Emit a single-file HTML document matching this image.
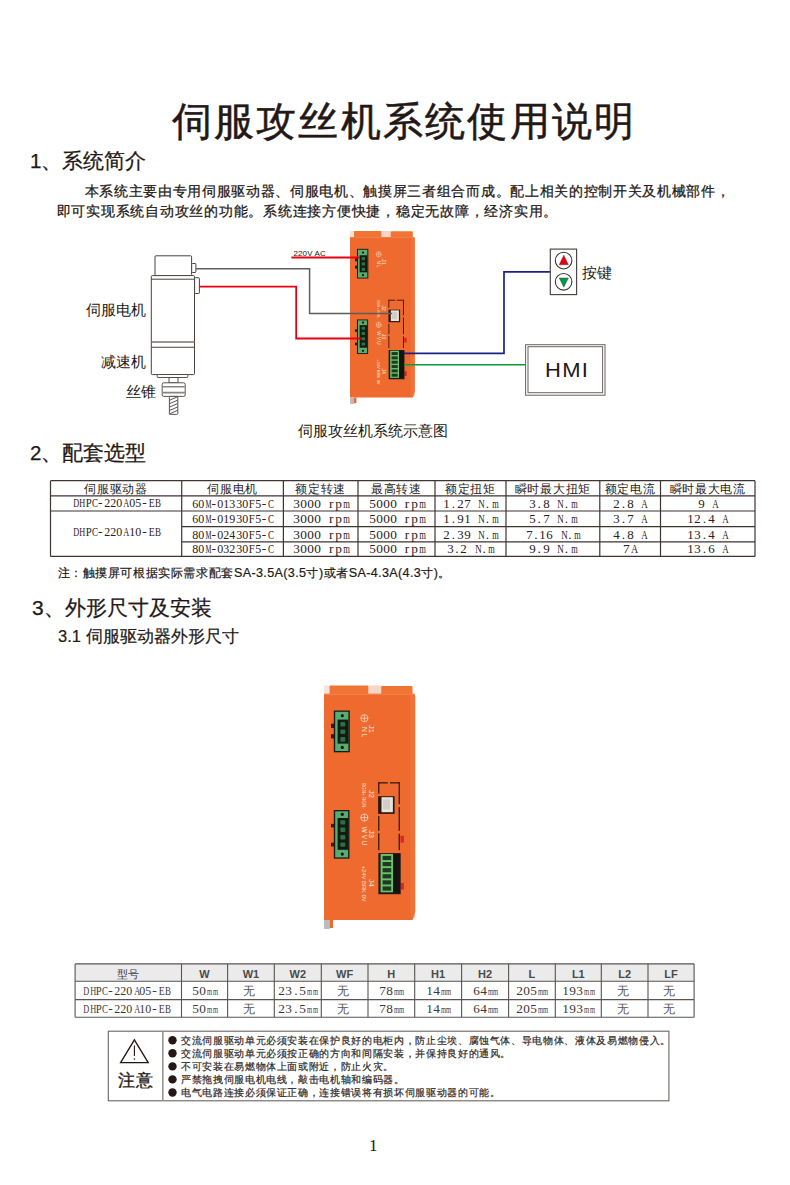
<!DOCTYPE html>
<html><head><meta charset="utf-8">
<style>
html,body{margin:0;padding:0;background:#fff;}
body{width:790px;height:1185px;position:relative;overflow:hidden;font-family:"Liberation Sans",sans-serif;color:#231815;}
.t{position:absolute;white-space:nowrap;line-height:1;}
.c{position:absolute;white-space:nowrap;line-height:1;text-align:center;}
.sf{font-family:"Liberation Serif",serif;}
.mo{font-family:"Liberation Mono",monospace;}
.m i{display:inline-block;font-style:normal;text-align:center;}
svg{position:absolute;left:0;top:0;}
</style></head><body>
<svg width="790" height="1185" viewBox="0 0 790 1185">
<defs>
<g id="drv">
<rect x="0" y="0" width="6" height="10" fill="#f3e3dc"/>
<rect x="5.6" y="0" width="39" height="9.5" rx="1" fill="#f07535"/>
<rect x="44.6" y="0" width="12.6" height="9" fill="#f6d6c8"/>
<rect x="57.2" y="0.5" width="31.3" height="9" rx="1" fill="#f07535"/>
<path d="M0 8.4 L90.5 8.4 L91.3 11 L91.3 226 L88.5 234.6 L0 234.6 Z" fill="#ee6a2e"/>
<rect x="86" y="10" width="5" height="222" fill="#f07a40" opacity="0.6"/>
<rect x="0" y="8.4" width="91" height="1.2" fill="#f58a55" opacity="0.7"/>
<rect x="0" y="234.6" width="5.6" height="9" fill="#b9bcc0"/>
<rect x="5.6" y="234.6" width="3.4" height="8" fill="#ee6a2e"/>
<rect x="7" y="38.3" width="3" height="4.3" fill="#2a1d18"/>
<rect x="7" y="48.8" width="3" height="4.2" fill="#2a1d18"/>
<rect x="9.8" y="25.1" width="16" height="41.8" fill="#1a1c18"/>
<rect x="11.2" y="26.4" width="13.2" height="39.2" fill="#55ad72"/>
<rect x="13.6" y="34.2" width="10.8" height="24" fill="#121a14"/>
<rect x="16.3" y="36.5" width="5" height="4.6" rx="1" fill="#2e6e44"/>
<rect x="16.3" y="44.1" width="5" height="4.6" rx="1" fill="#2e6e44"/>
<rect x="16.3" y="51.7" width="5" height="4.6" rx="1" fill="#2e6e44"/>
<circle cx="18.3" cy="30.3" r="1.6" fill="#101410"/><circle cx="18.3" cy="62" r="1.6" fill="#101410"/>
<rect x="7" y="138.5" width="3" height="3.5" fill="#2a1d18"/>
<rect x="7" y="157.3" width="3" height="3.7" fill="#2a1d18"/>
<rect x="9.8" y="124.6" width="15.7" height="48.7" fill="#1a1c18"/>
<rect x="11.2" y="125.9" width="12.9" height="46.1" fill="#55ad72"/>
<rect x="13.6" y="132.6" width="10.5" height="31.8" fill="#121a14"/>
<rect x="16.3" y="134.8" width="5" height="4.4" rx="1" fill="#2e6e44"/>
<rect x="16.3" y="142.2" width="5" height="4.4" rx="1" fill="#2e6e44"/>
<rect x="16.3" y="149.6" width="5" height="4.4" rx="1" fill="#2e6e44"/>
<rect x="16.3" y="157.0" width="5" height="4.4" rx="1" fill="#2e6e44"/>
<circle cx="18.3" cy="128.9" r="1.6" fill="#101410"/><circle cx="18.3" cy="168.7" r="1.6" fill="#101410"/>
<g fill="#3a1a10">
<rect x="54.1" y="96.8" width="9.7" height="1.3"/><rect x="66" y="96.8" width="9.7" height="1.3"/>
<rect x="54.1" y="96.8" width="1.3" height="11.4"/><rect x="54.1" y="130.6" width="1.3" height="14.8"/><rect x="54.1" y="147.9" width="1.3" height="16.9"/>
<rect x="74.6" y="96.8" width="1.3" height="22"/><rect x="74.6" y="121.7" width="1.3" height="23.7"/><rect x="74.6" y="148.3" width="1.3" height="16.5"/>
</g>
<rect x="54.1" y="110.8" width="16.5" height="17.7" fill="#2a1a14"/>
<rect x="57.5" y="111.8" width="11.4" height="15" fill="#e8e4dc"/>
<rect x="59" y="114" width="7" height="10" fill="#c9c5bb" opacity="0.7"/>
<rect x="76.5" y="150.4" width="3.4" height="6.8" fill="#d8262a"/>
<rect x="76.5" y="197.6" width="3.4" height="6.5" fill="#d8262a"/>
<rect x="54.4" y="167.7" width="22.3" height="41.1" fill="#1c1a18"/>
<rect x="56.6" y="168.6" width="12.6" height="38.3" fill="#6cc26a"/>
<rect x="58.6" y="170.5" width="8.6" height="4.2" fill="#1f3a22"/>
<rect x="58.6" y="176.6" width="8.6" height="4.2" fill="#1f3a22"/>
<rect x="58.6" y="182.7" width="8.6" height="4.2" fill="#1f3a22"/>
<rect x="58.6" y="188.8" width="8.6" height="4.2" fill="#1f3a22"/>
<rect x="58.6" y="194.9" width="8.6" height="4.2" fill="#1f3a22"/>
<rect x="58.6" y="201.0" width="8.6" height="4.2" fill="#1f3a22"/>
<rect x="69.2" y="168.6" width="6.5" height="38.3" fill="#151312"/>
<g fill="none" stroke="#fbe0d0" stroke-width="0.7">
<circle cx="40.4" cy="32.8" r="3.6"/><path d="M36.8 32.8H44M40.4 29.2V36.4"/>
<circle cx="40.4" cy="132.2" r="3.6"/><path d="M36.8 132.2H44M40.4 128.6V135.8"/>
</g>
<g fill="#fde5d8" font-family="Liberation Sans, sans-serif" font-size="6.5">
<text transform="translate(37.6,41.5) rotate(90)">N  L</text>
<text transform="translate(44.6,39.5) rotate(90)" font-size="7.5">J1</text>
<text transform="translate(44.6,104.5) rotate(90)" font-size="7.5">J2</text>
<text transform="translate(38,97.4) rotate(90)" font-size="4.6">RGN+ RGN-</text>
<text transform="translate(44.6,144.6) rotate(90)" font-size="7.5">J3</text>
<text transform="translate(37.6,141.3) rotate(90)">W  V  U</text>
<text transform="translate(44.6,193.5) rotate(90)" font-size="7.5">J4</text>
<text transform="translate(37.6,180.3) rotate(90)" font-size="5.8">+24V BRK 0V</text>
</g>
</g>
</defs>
<g fill="#fff" stroke="#4a403d" stroke-width="1">
<rect x="155" y="255.8" width="36.6" height="19.8" rx="1"/>
<rect x="191.7" y="263.5" width="4.2" height="9" rx="0.8"/>
<rect x="151.3" y="275.6" width="43.2" height="99" rx="1"/>
<rect x="194.6" y="277.7" width="4.8" height="15.8" rx="0.8"/>
</g>
<g stroke="#4a403d" fill="none">
<path d="M151.3 279.2H194.5" stroke-width="1"/>
<path d="M151.3 342H194.5" stroke="#7a7270" stroke-width="1.6"/>
<path d="M151.3 347.2H194.5" stroke-width="1.1"/>
</g>
<g fill="#fff" stroke="#4a403d" stroke-width="0.9">
<rect x="157.2" y="374.5" width="30.6" height="3" rx="0.6"/>
<rect x="169" y="377.5" width="9" height="5.3"/>
<rect x="162.2" y="382.8" width="23" height="13.6" rx="1.5"/>
<rect x="169.4" y="396.4" width="8.4" height="18" rx="1"/>
</g>
<path d="M162.6 386.7H184.8M162.6 392.6H184.8" stroke="#8a8482" stroke-width="1.6"/>
<g stroke="#4a403d" stroke-width="0.9">
<path d="M169.6 400.2 L177.6 396.8"/>
<path d="M169.6 403.6 L177.6 400.2"/>
<path d="M169.6 407.0 L177.6 403.6"/>
<path d="M169.6 410.4 L177.6 407.0"/>
<path d="M169.6 413.8 L177.6 410.4"/>
</g>
<use href="#drv" transform="translate(350,231) scale(0.71)"/>
<path d="M196 268.8H309.6V313.6H392" fill="none" stroke="#5e5e5e" stroke-width="1.5"/>
<path d="M199.5 286.6H296.2V338.5H361" fill="none" stroke="#e60012" stroke-width="1.8"/>
<path d="M291.4 257.5H359.7" fill="none" stroke="#e60012" stroke-width="1.8"/>
<path d="M404 353.3H504V271.9H550.2" fill="none" stroke="#1d2088" stroke-width="1.7"/>
<path d="M404 364.7H525.5" fill="none" stroke="#0c9a3a" stroke-width="1.6"/>
<rect x="550.3" y="249.1" width="26.3" height="45.5" fill="#fff" stroke="#4a4240" stroke-width="1.15"/>
<circle cx="563.6" cy="260.6" r="8.3" fill="#fff" stroke="#3a3230" stroke-width="1.05"/>
<circle cx="563.6" cy="281.8" r="8.3" fill="#fff" stroke="#3a3230" stroke-width="1.05"/>
<path d="M563.8 255.2L568.4 264.8H559.2Z" fill="#e60012" stroke="#3a3030" stroke-width="0.4"/>
<path d="M563.8 287.2L568.4 278H559.2Z" fill="#009944" stroke="#3a3030" stroke-width="0.4"/>
<rect x="525.6" y="344.7" width="79.4" height="50.5" fill="#fff" stroke="#6a6260" stroke-width="1"/>
<rect x="528" y="346.7" width="74.6" height="46" fill="none" stroke="#6a6260" stroke-width="1"/>
<use href="#drv" transform="translate(324,685.4)"/>
<path d="M50.5 480.7V556.4 M181.7 480.7V556.4 M283.4 480.7V556.4 M358 480.7V556.4 M435 480.7V556.4 M506 480.7V556.4 M599.8 480.7V556.4 M660.5 480.7V556.4 M755 480.7V556.4 M50.5 480.7H755 M50.5 495.8H755 M50.5 511H755 M181.7 526.6H755 M181.7 541.8H755 M50.5 556.4H755" stroke="#3e3533" stroke-width="1.2" fill="none"/>
<rect x="75.1" y="963.9" width="619.0" height="17.300000000000068" fill="#ebebeb"/>
<path d="M75.1 963.9V1017.3 M181.5 963.9V1017.3 M227.6 963.9V1017.3 M274.3 963.9V1017.3 M321.3 963.9V1017.3 M368 963.9V1017.3 M414.7 963.9V1017.3 M461.6 963.9V1017.3 M508.6 963.9V1017.3 M555.3 963.9V1017.3 M601.3 963.9V1017.3 M648 963.9V1017.3 M694.1 963.9V1017.3 M75.1 963.9H694.1 M75.1 981.2H694.1 M75.1 999.6H694.1 M75.1 1017.3H694.1" stroke="#5a5452" stroke-width="1.1" fill="none"/>
<rect x="108.3" y="1031.2" width="560.6" height="69.6" fill="none" stroke="#6a6462" stroke-width="1.1"/>
<path d="M162.8 1031.2V1100.8" stroke="#9a9492" stroke-width="1.6"/>
<path d="M134.4 1039.8L148.2 1062.6H120.6Z" fill="none" stroke="#231815" stroke-width="1.35" stroke-linejoin="miter"/>
<path d="M134.4 1045.5V1056" stroke="#231815" stroke-width="1.1"/><circle cx="134.4" cy="1059" r="0.8" fill="#231815"/>
<circle cx="172.5" cy="1040.2" r="4.2" fill="#231815"/>
<circle cx="172.5" cy="1053.3" r="4.2" fill="#231815"/>
<circle cx="172.5" cy="1066.4" r="4.2" fill="#231815"/>
<circle cx="172.5" cy="1079.4" r="4.2" fill="#231815"/>
<circle cx="172.5" cy="1092.5" r="4.2" fill="#231815"/>
</svg>
<div class="t" id="title" style="left:171.5px;top:100.5px;font-size:40px;letter-spacing:2.25px;-webkit-text-stroke:0.5px #231815;">伺服攻丝机系统使用说明</div>
<div class="t" id="h1" style="left:30px;top:151px;font-size:20.5px;-webkit-text-stroke:0.25px #231815;">1、系统简介</div>
<div class="t" id="p1" style="left:84.5px;top:184px;font-size:14px;letter-spacing:0.68px;-webkit-text-stroke:0.25px #231815;">本系统主要由专用伺服驱动器、伺服电机、触摸屏三者组合而成。配上相关的控制开关及机械部件，</div>
<div class="t" id="p2" style="left:56.5px;top:203.5px;font-size:14px;letter-spacing:0.75px;-webkit-text-stroke:0.25px #231815;">即可实现系统自动攻丝的功能。系统连接方便快捷，稳定无故障，经济实用。</div>
<div class="t" id="lb1" style="left:86px;top:302px;font-size:15px;">伺服电机</div>
<div class="t" id="lb2" style="left:101px;top:354px;font-size:15px;">减速机</div>
<div class="t" id="lb3" style="left:126px;top:384px;font-size:15px;">丝锥</div>
<div class="t" id="lb4" style="left:582px;top:265px;font-size:15px;">按键</div>
<div class="t" id="hmi" style="left:544.5px;top:360px;font-size:20px;letter-spacing:1.2px;transform:scaleX(1.1);transform-origin:0 0;">HMI</div>
<div class="t" id="ac" style="left:293.5px;top:249.5px;font-size:8px;letter-spacing:0.1px;">220V AC</div>
<div class="t" id="cap" style="left:298px;top:423px;font-size:15px;">伺服攻丝机系统示意图</div>
<div class="t" id="h2" style="left:30px;top:442.5px;font-size:20.5px;-webkit-text-stroke:0.25px #231815;">2、配套选型</div>
<div class="t" id="note" style="left:57.5px;top:567px;font-size:12px;letter-spacing:0.6px;-webkit-text-stroke:0.2px #231815;">注：触摸屏可根据实际需求配套<span style="font-size:12.6px;letter-spacing:0.35px">SA-3.5A(3.5</span>寸<span style="font-size:12.6px;letter-spacing:0.35px">)</span>或者<span style="font-size:12.6px;letter-spacing:0.35px">SA-4.3A(4.3</span>寸<span style="font-size:12.6px;letter-spacing:0.35px">)</span>。</div>
<div class="t" id="h3" style="left:32px;top:597px;font-size:21px;-webkit-text-stroke:0.25px #231815;">3、外形尺寸及安装</div>
<div class="t" id="h31" style="left:58px;top:627.5px;font-size:16.5px;-webkit-text-stroke:0.2px #231815;">3.1 伺服驱动器外形尺寸</div>
<div class="t sf" id="pg" style="left:369px;top:1137px;font-size:17px;">1</div>
<div class="c" style="left:50.5px;width:131.2px;top:482.7px;font-size:12px;letter-spacing:0.7px;color:#2a2220;">伺服驱动器</div>
<div class="c" style="left:181.7px;width:101.69999999999999px;top:482.7px;font-size:12px;letter-spacing:0.7px;color:#2a2220;">伺服电机</div>
<div class="c" style="left:283.4px;width:74.60000000000002px;top:482.7px;font-size:12px;letter-spacing:0.7px;color:#2a2220;">额定转速</div>
<div class="c" style="left:358px;width:77px;top:482.7px;font-size:12px;letter-spacing:0.7px;color:#2a2220;">最高转速</div>
<div class="c" style="left:435px;width:71px;top:482.7px;font-size:12px;letter-spacing:0.7px;color:#2a2220;">额定扭矩</div>
<div class="c" style="left:506px;width:93.79999999999995px;top:482.7px;font-size:12px;letter-spacing:0.7px;color:#2a2220;">瞬时最大扭矩</div>
<div class="c" style="left:599.8px;width:60.700000000000045px;top:482.7px;font-size:12px;letter-spacing:0.7px;color:#2a2220;">额定电流</div>
<div class="c" style="left:660.5px;width:94.5px;top:482.7px;font-size:12px;letter-spacing:0.7px;color:#2a2220;">瞬时最大电流</div>
<div class="c m" style="left:50.5px;width:131.2px;top:496.1px;font-size:13.5px;font-family:'Liberation Serif',serif;color:#2a2220;"><i style="width:6.3px;transform:scaleX(0.614)">D</i><i style="width:6.3px;transform:scaleX(0.614)">H</i><i style="width:6.3px;transform:scaleX(0.797)">P</i><i style="width:6.3px;transform:scaleX(0.665)">C</i><i style="width:6.3px">-</i><i style="width:6.3px;transform:scaleX(0.887)">2</i><i style="width:6.3px;transform:scaleX(0.887)">2</i><i style="width:6.3px;transform:scaleX(0.887)">0</i><i style="width:6.3px;transform:scaleX(0.614)">A</i><i style="width:6.3px;transform:scaleX(0.887)">0</i><i style="width:6.3px;transform:scaleX(0.887)">5</i><i style="width:6.3px">-</i><i style="width:6.3px;transform:scaleX(0.726)">E</i><i style="width:6.3px;transform:scaleX(0.665)">B</i></div>
<div class="c m" style="left:50.5px;width:131.2px;top:525.0px;font-size:13.5px;font-family:'Liberation Serif',serif;color:#2a2220;"><i style="width:6.3px;transform:scaleX(0.614)">D</i><i style="width:6.3px;transform:scaleX(0.614)">H</i><i style="width:6.3px;transform:scaleX(0.797)">P</i><i style="width:6.3px;transform:scaleX(0.665)">C</i><i style="width:6.3px">-</i><i style="width:6.3px;transform:scaleX(0.887)">2</i><i style="width:6.3px;transform:scaleX(0.887)">2</i><i style="width:6.3px;transform:scaleX(0.887)">0</i><i style="width:6.3px;transform:scaleX(0.614)">A</i><i style="width:6.3px;transform:scaleX(0.887)">1</i><i style="width:6.3px;transform:scaleX(0.887)">0</i><i style="width:6.3px">-</i><i style="width:6.3px;transform:scaleX(0.726)">E</i><i style="width:6.3px;transform:scaleX(0.665)">B</i></div>
<div class="c m" style="left:181.7px;width:101.69999999999999px;top:496.6px;font-size:13.5px;font-family:'Liberation Serif',serif;color:#2a2220;"><i style="width:6.3px;transform:scaleX(0.887)">6</i><i style="width:6.3px;transform:scaleX(0.887)">0</i><i style="width:6.3px;transform:scaleX(0.499)">M</i><i style="width:6.3px">-</i><i style="width:6.3px;transform:scaleX(0.887)">0</i><i style="width:6.3px;transform:scaleX(0.887)">1</i><i style="width:6.3px;transform:scaleX(0.887)">3</i><i style="width:6.3px;transform:scaleX(0.887)">3</i><i style="width:6.3px;transform:scaleX(0.887)">0</i><i style="width:6.3px;transform:scaleX(0.797)">F</i><i style="width:6.3px;transform:scaleX(0.887)">5</i><i style="width:6.3px">-</i><i style="width:6.3px;transform:scaleX(0.665)">C</i></div>
<div class="c m" style="left:283.4px;width:74.60000000000002px;top:496.6px;font-size:13.5px;font-family:'Liberation Serif',serif;color:#2a2220;"><i style="width:7.0px;transform:scaleX(0.985)">3</i><i style="width:7.0px;transform:scaleX(0.985)">0</i><i style="width:7.0px;transform:scaleX(0.985)">0</i><i style="width:7.0px;transform:scaleX(0.985)">0</i><i style="width:7.0px"></i><i style="width:7.0px">r</i><i style="width:7.0px;transform:scaleX(0.985)">p</i><i style="width:7.0px;transform:scaleX(0.633)">m</i></div>
<div class="c m" style="left:358px;width:77px;top:496.6px;font-size:13.5px;font-family:'Liberation Serif',serif;color:#2a2220;"><i style="width:7.0px;transform:scaleX(0.985)">5</i><i style="width:7.0px;transform:scaleX(0.985)">0</i><i style="width:7.0px;transform:scaleX(0.985)">0</i><i style="width:7.0px;transform:scaleX(0.985)">0</i><i style="width:7.0px"></i><i style="width:7.0px">r</i><i style="width:7.0px;transform:scaleX(0.985)">p</i><i style="width:7.0px;transform:scaleX(0.633)">m</i></div>
<div class="c m" style="left:435px;width:71px;top:496.6px;font-size:13.5px;font-family:'Liberation Serif',serif;color:#2a2220;"><i style="width:6.8px;transform:scaleX(0.957)">1</i><i style="width:6.8px">.</i><i style="width:6.8px;transform:scaleX(0.957)">2</i><i style="width:6.8px;transform:scaleX(0.957)">7</i><i style="width:6.8px"></i><i style="width:6.8px;transform:scaleX(0.663)">N</i><i style="width:6.8px">.</i><i style="width:6.8px;transform:scaleX(0.615)">m</i></div>
<div class="c m" style="left:506px;width:93.79999999999995px;top:496.6px;font-size:13.5px;font-family:'Liberation Serif',serif;color:#2a2220;"><i style="width:6.8px;transform:scaleX(0.957)">3</i><i style="width:6.8px">.</i><i style="width:6.8px;transform:scaleX(0.957)">8</i><i style="width:6.8px"></i><i style="width:6.8px;transform:scaleX(0.663)">N</i><i style="width:6.8px">.</i><i style="width:6.8px;transform:scaleX(0.615)">m</i></div>
<div class="c m" style="left:599.8px;width:60.700000000000045px;top:496.6px;font-size:13.5px;font-family:'Liberation Serif',serif;color:#2a2220;"><i style="width:6.8px;transform:scaleX(0.957)">2</i><i style="width:6.8px">.</i><i style="width:6.8px;transform:scaleX(0.957)">8</i><i style="width:6.8px"></i><i style="width:6.8px;transform:scaleX(0.663)">A</i></div>
<div class="c m" style="left:660.5px;width:94.5px;top:496.6px;font-size:13.5px;font-family:'Liberation Serif',serif;color:#2a2220;"><i style="width:6.8px;transform:scaleX(0.957)">9</i><i style="width:6.8px"></i><i style="width:6.8px;transform:scaleX(0.663)">A</i></div>
<div class="c m" style="left:181.7px;width:101.69999999999999px;top:512.0px;font-size:13.5px;font-family:'Liberation Serif',serif;color:#2a2220;"><i style="width:6.3px;transform:scaleX(0.887)">6</i><i style="width:6.3px;transform:scaleX(0.887)">0</i><i style="width:6.3px;transform:scaleX(0.499)">M</i><i style="width:6.3px">-</i><i style="width:6.3px;transform:scaleX(0.887)">0</i><i style="width:6.3px;transform:scaleX(0.887)">1</i><i style="width:6.3px;transform:scaleX(0.887)">9</i><i style="width:6.3px;transform:scaleX(0.887)">3</i><i style="width:6.3px;transform:scaleX(0.887)">0</i><i style="width:6.3px;transform:scaleX(0.797)">F</i><i style="width:6.3px;transform:scaleX(0.887)">5</i><i style="width:6.3px">-</i><i style="width:6.3px;transform:scaleX(0.665)">C</i></div>
<div class="c m" style="left:283.4px;width:74.60000000000002px;top:512.0px;font-size:13.5px;font-family:'Liberation Serif',serif;color:#2a2220;"><i style="width:7.0px;transform:scaleX(0.985)">3</i><i style="width:7.0px;transform:scaleX(0.985)">0</i><i style="width:7.0px;transform:scaleX(0.985)">0</i><i style="width:7.0px;transform:scaleX(0.985)">0</i><i style="width:7.0px"></i><i style="width:7.0px">r</i><i style="width:7.0px;transform:scaleX(0.985)">p</i><i style="width:7.0px;transform:scaleX(0.633)">m</i></div>
<div class="c m" style="left:358px;width:77px;top:512.0px;font-size:13.5px;font-family:'Liberation Serif',serif;color:#2a2220;"><i style="width:7.0px;transform:scaleX(0.985)">5</i><i style="width:7.0px;transform:scaleX(0.985)">0</i><i style="width:7.0px;transform:scaleX(0.985)">0</i><i style="width:7.0px;transform:scaleX(0.985)">0</i><i style="width:7.0px"></i><i style="width:7.0px">r</i><i style="width:7.0px;transform:scaleX(0.985)">p</i><i style="width:7.0px;transform:scaleX(0.633)">m</i></div>
<div class="c m" style="left:435px;width:71px;top:512.0px;font-size:13.5px;font-family:'Liberation Serif',serif;color:#2a2220;"><i style="width:6.8px;transform:scaleX(0.957)">1</i><i style="width:6.8px">.</i><i style="width:6.8px;transform:scaleX(0.957)">9</i><i style="width:6.8px;transform:scaleX(0.957)">1</i><i style="width:6.8px"></i><i style="width:6.8px;transform:scaleX(0.663)">N</i><i style="width:6.8px">.</i><i style="width:6.8px;transform:scaleX(0.615)">m</i></div>
<div class="c m" style="left:506px;width:93.79999999999995px;top:512.0px;font-size:13.5px;font-family:'Liberation Serif',serif;color:#2a2220;"><i style="width:6.8px;transform:scaleX(0.957)">5</i><i style="width:6.8px">.</i><i style="width:6.8px;transform:scaleX(0.957)">7</i><i style="width:6.8px"></i><i style="width:6.8px;transform:scaleX(0.663)">N</i><i style="width:6.8px">.</i><i style="width:6.8px;transform:scaleX(0.615)">m</i></div>
<div class="c m" style="left:599.8px;width:60.700000000000045px;top:512.0px;font-size:13.5px;font-family:'Liberation Serif',serif;color:#2a2220;"><i style="width:6.8px;transform:scaleX(0.957)">3</i><i style="width:6.8px">.</i><i style="width:6.8px;transform:scaleX(0.957)">7</i><i style="width:6.8px"></i><i style="width:6.8px;transform:scaleX(0.663)">A</i></div>
<div class="c m" style="left:660.5px;width:94.5px;top:512.0px;font-size:13.5px;font-family:'Liberation Serif',serif;color:#2a2220;"><i style="width:6.8px;transform:scaleX(0.957)">1</i><i style="width:6.8px;transform:scaleX(0.957)">2</i><i style="width:6.8px">.</i><i style="width:6.8px;transform:scaleX(0.957)">4</i><i style="width:6.8px"></i><i style="width:6.8px;transform:scaleX(0.663)">A</i></div>
<div class="c m" style="left:181.7px;width:101.69999999999999px;top:527.5px;font-size:13.5px;font-family:'Liberation Serif',serif;color:#2a2220;"><i style="width:6.3px;transform:scaleX(0.887)">8</i><i style="width:6.3px;transform:scaleX(0.887)">0</i><i style="width:6.3px;transform:scaleX(0.499)">M</i><i style="width:6.3px">-</i><i style="width:6.3px;transform:scaleX(0.887)">0</i><i style="width:6.3px;transform:scaleX(0.887)">2</i><i style="width:6.3px;transform:scaleX(0.887)">4</i><i style="width:6.3px;transform:scaleX(0.887)">3</i><i style="width:6.3px;transform:scaleX(0.887)">0</i><i style="width:6.3px;transform:scaleX(0.797)">F</i><i style="width:6.3px;transform:scaleX(0.887)">5</i><i style="width:6.3px">-</i><i style="width:6.3px;transform:scaleX(0.665)">C</i></div>
<div class="c m" style="left:283.4px;width:74.60000000000002px;top:527.5px;font-size:13.5px;font-family:'Liberation Serif',serif;color:#2a2220;"><i style="width:7.0px;transform:scaleX(0.985)">3</i><i style="width:7.0px;transform:scaleX(0.985)">0</i><i style="width:7.0px;transform:scaleX(0.985)">0</i><i style="width:7.0px;transform:scaleX(0.985)">0</i><i style="width:7.0px"></i><i style="width:7.0px">r</i><i style="width:7.0px;transform:scaleX(0.985)">p</i><i style="width:7.0px;transform:scaleX(0.633)">m</i></div>
<div class="c m" style="left:358px;width:77px;top:527.5px;font-size:13.5px;font-family:'Liberation Serif',serif;color:#2a2220;"><i style="width:7.0px;transform:scaleX(0.985)">5</i><i style="width:7.0px;transform:scaleX(0.985)">0</i><i style="width:7.0px;transform:scaleX(0.985)">0</i><i style="width:7.0px;transform:scaleX(0.985)">0</i><i style="width:7.0px"></i><i style="width:7.0px">r</i><i style="width:7.0px;transform:scaleX(0.985)">p</i><i style="width:7.0px;transform:scaleX(0.633)">m</i></div>
<div class="c m" style="left:435px;width:71px;top:527.5px;font-size:13.5px;font-family:'Liberation Serif',serif;color:#2a2220;"><i style="width:6.8px;transform:scaleX(0.957)">2</i><i style="width:6.8px">.</i><i style="width:6.8px;transform:scaleX(0.957)">3</i><i style="width:6.8px;transform:scaleX(0.957)">9</i><i style="width:6.8px"></i><i style="width:6.8px;transform:scaleX(0.663)">N</i><i style="width:6.8px">.</i><i style="width:6.8px;transform:scaleX(0.615)">m</i></div>
<div class="c m" style="left:506px;width:93.79999999999995px;top:527.5px;font-size:13.5px;font-family:'Liberation Serif',serif;color:#2a2220;"><i style="width:6.8px;transform:scaleX(0.957)">7</i><i style="width:6.8px">.</i><i style="width:6.8px;transform:scaleX(0.957)">1</i><i style="width:6.8px;transform:scaleX(0.957)">6</i><i style="width:6.8px"></i><i style="width:6.8px;transform:scaleX(0.663)">N</i><i style="width:6.8px">.</i><i style="width:6.8px;transform:scaleX(0.615)">m</i></div>
<div class="c m" style="left:599.8px;width:60.700000000000045px;top:527.5px;font-size:13.5px;font-family:'Liberation Serif',serif;color:#2a2220;"><i style="width:6.8px;transform:scaleX(0.957)">4</i><i style="width:6.8px">.</i><i style="width:6.8px;transform:scaleX(0.957)">8</i><i style="width:6.8px"></i><i style="width:6.8px;transform:scaleX(0.663)">A</i></div>
<div class="c m" style="left:660.5px;width:94.5px;top:527.5px;font-size:13.5px;font-family:'Liberation Serif',serif;color:#2a2220;"><i style="width:6.8px;transform:scaleX(0.957)">1</i><i style="width:6.8px;transform:scaleX(0.957)">3</i><i style="width:6.8px">.</i><i style="width:6.8px;transform:scaleX(0.957)">4</i><i style="width:6.8px"></i><i style="width:6.8px;transform:scaleX(0.663)">A</i></div>
<div class="c m" style="left:181.7px;width:101.69999999999999px;top:542.3px;font-size:13.5px;font-family:'Liberation Serif',serif;color:#2a2220;"><i style="width:6.3px;transform:scaleX(0.887)">8</i><i style="width:6.3px;transform:scaleX(0.887)">0</i><i style="width:6.3px;transform:scaleX(0.499)">M</i><i style="width:6.3px">-</i><i style="width:6.3px;transform:scaleX(0.887)">0</i><i style="width:6.3px;transform:scaleX(0.887)">3</i><i style="width:6.3px;transform:scaleX(0.887)">2</i><i style="width:6.3px;transform:scaleX(0.887)">3</i><i style="width:6.3px;transform:scaleX(0.887)">0</i><i style="width:6.3px;transform:scaleX(0.797)">F</i><i style="width:6.3px;transform:scaleX(0.887)">5</i><i style="width:6.3px">-</i><i style="width:6.3px;transform:scaleX(0.665)">C</i></div>
<div class="c m" style="left:283.4px;width:74.60000000000002px;top:542.3px;font-size:13.5px;font-family:'Liberation Serif',serif;color:#2a2220;"><i style="width:7.0px;transform:scaleX(0.985)">3</i><i style="width:7.0px;transform:scaleX(0.985)">0</i><i style="width:7.0px;transform:scaleX(0.985)">0</i><i style="width:7.0px;transform:scaleX(0.985)">0</i><i style="width:7.0px"></i><i style="width:7.0px">r</i><i style="width:7.0px;transform:scaleX(0.985)">p</i><i style="width:7.0px;transform:scaleX(0.633)">m</i></div>
<div class="c m" style="left:358px;width:77px;top:542.3px;font-size:13.5px;font-family:'Liberation Serif',serif;color:#2a2220;"><i style="width:7.0px;transform:scaleX(0.985)">5</i><i style="width:7.0px;transform:scaleX(0.985)">0</i><i style="width:7.0px;transform:scaleX(0.985)">0</i><i style="width:7.0px;transform:scaleX(0.985)">0</i><i style="width:7.0px"></i><i style="width:7.0px">r</i><i style="width:7.0px;transform:scaleX(0.985)">p</i><i style="width:7.0px;transform:scaleX(0.633)">m</i></div>
<div class="c m" style="left:435px;width:71px;top:542.3px;font-size:13.5px;font-family:'Liberation Serif',serif;color:#2a2220;"><i style="width:6.8px;transform:scaleX(0.957)">3</i><i style="width:6.8px">.</i><i style="width:6.8px;transform:scaleX(0.957)">2</i><i style="width:6.8px"></i><i style="width:6.8px;transform:scaleX(0.663)">N</i><i style="width:6.8px">.</i><i style="width:6.8px;transform:scaleX(0.615)">m</i></div>
<div class="c m" style="left:506px;width:93.79999999999995px;top:542.3px;font-size:13.5px;font-family:'Liberation Serif',serif;color:#2a2220;"><i style="width:6.8px;transform:scaleX(0.957)">9</i><i style="width:6.8px">.</i><i style="width:6.8px;transform:scaleX(0.957)">9</i><i style="width:6.8px"></i><i style="width:6.8px;transform:scaleX(0.663)">N</i><i style="width:6.8px">.</i><i style="width:6.8px;transform:scaleX(0.615)">m</i></div>
<div class="c m" style="left:599.8px;width:60.700000000000045px;top:542.3px;font-size:13.5px;font-family:'Liberation Serif',serif;color:#2a2220;"><i style="width:7.5px">7</i><i style="width:7.5px;transform:scaleX(0.731)">A</i></div>
<div class="c m" style="left:660.5px;width:94.5px;top:542.3px;font-size:13.5px;font-family:'Liberation Serif',serif;color:#2a2220;"><i style="width:6.8px;transform:scaleX(0.957)">1</i><i style="width:6.8px;transform:scaleX(0.957)">3</i><i style="width:6.8px">.</i><i style="width:6.8px;transform:scaleX(0.957)">6</i><i style="width:6.8px"></i><i style="width:6.8px;transform:scaleX(0.663)">A</i></div>
<div class="c" style="left:75.1px;width:106.4px;top:968.5px;font-size:11px;color:#3a3a3a;">型号</div>
<div class="c" style="left:181.5px;width:46.099999999999994px;top:968.5px;font-size:11px;color:#4a4a4a;font-weight:bold;">W</div>
<div class="c" style="left:227.6px;width:46.70000000000002px;top:968.5px;font-size:11px;color:#4a4a4a;font-weight:bold;">W1</div>
<div class="c" style="left:274.3px;width:47.0px;top:968.5px;font-size:11px;color:#4a4a4a;font-weight:bold;">W2</div>
<div class="c" style="left:321.3px;width:46.69999999999999px;top:968.5px;font-size:11px;color:#4a4a4a;font-weight:bold;">WF</div>
<div class="c" style="left:368px;width:46.69999999999999px;top:968.5px;font-size:11px;color:#4a4a4a;font-weight:bold;">H</div>
<div class="c" style="left:414.7px;width:46.900000000000034px;top:968.5px;font-size:11px;color:#4a4a4a;font-weight:bold;">H1</div>
<div class="c" style="left:461.6px;width:47.0px;top:968.5px;font-size:11px;color:#4a4a4a;font-weight:bold;">H2</div>
<div class="c" style="left:508.6px;width:46.69999999999993px;top:968.5px;font-size:11px;color:#4a4a4a;font-weight:bold;">L</div>
<div class="c" style="left:555.3px;width:46.0px;top:968.5px;font-size:11px;color:#4a4a4a;font-weight:bold;">L1</div>
<div class="c" style="left:601.3px;width:46.700000000000045px;top:968.5px;font-size:11px;color:#4a4a4a;font-weight:bold;">L2</div>
<div class="c" style="left:648px;width:46.10000000000002px;top:968.5px;font-size:11px;color:#4a4a4a;font-weight:bold;">LF</div>
<div class="c m" style="left:73.1px;width:106.4px;top:983.7px;font-size:13.5px;font-family:'Liberation Serif',serif;color:#2a2220;color:#3e3836;"><i style="width:6.3px;transform:scaleX(0.614)">D</i><i style="width:6.3px;transform:scaleX(0.614)">H</i><i style="width:6.3px;transform:scaleX(0.797)">P</i><i style="width:6.3px;transform:scaleX(0.665)">C</i><i style="width:6.3px">-</i><i style="width:6.3px;transform:scaleX(0.887)">2</i><i style="width:6.3px;transform:scaleX(0.887)">2</i><i style="width:6.3px;transform:scaleX(0.887)">0</i><i style="width:6.3px;transform:scaleX(0.614)">A</i><i style="width:6.3px;transform:scaleX(0.887)">0</i><i style="width:6.3px;transform:scaleX(0.887)">5</i><i style="width:6.3px">-</i><i style="width:6.3px;transform:scaleX(0.726)">E</i><i style="width:6.3px;transform:scaleX(0.665)">B</i></div>
<div class="c m" style="left:181.5px;width:46.099999999999994px;top:983.7px;font-size:13.5px;font-family:'Liberation Serif',serif;color:#2a2220;color:#3e3836;"><i style="width:7.0px;transform:scaleX(0.985)">5</i><i style="width:7.0px;transform:scaleX(0.985)">0</i><i style="width:5.4px;font-size:10.5px;transform:scaleX(0.628)">m</i><i style="width:5.4px;font-size:10.5px;transform:scaleX(0.628)">m</i></div>
<div class="c" style="left:225.6px;width:46.70000000000002px;top:985.2px;font-size:12px;color:#5a5452;">无</div>
<div class="c m" style="left:274.3px;width:47.0px;top:983.7px;font-size:13.5px;font-family:'Liberation Serif',serif;color:#2a2220;color:#3e3836;"><i style="width:7.0px;transform:scaleX(0.985)">2</i><i style="width:7.0px;transform:scaleX(0.985)">3</i><i style="width:7.0px">.</i><i style="width:7.0px;transform:scaleX(0.985)">5</i><i style="width:5.4px;font-size:10.5px;transform:scaleX(0.628)">m</i><i style="width:5.4px;font-size:10.5px;transform:scaleX(0.628)">m</i></div>
<div class="c" style="left:319.3px;width:46.69999999999999px;top:985.2px;font-size:12px;color:#5a5452;">无</div>
<div class="c m" style="left:368px;width:46.69999999999999px;top:983.7px;font-size:13.5px;font-family:'Liberation Serif',serif;color:#2a2220;color:#3e3836;"><i style="width:7.0px;transform:scaleX(0.985)">7</i><i style="width:7.0px;transform:scaleX(0.985)">8</i><i style="width:5.4px;font-size:10.5px;transform:scaleX(0.628)">m</i><i style="width:5.4px;font-size:10.5px;transform:scaleX(0.628)">m</i></div>
<div class="c m" style="left:414.7px;width:46.900000000000034px;top:983.7px;font-size:13.5px;font-family:'Liberation Serif',serif;color:#2a2220;color:#3e3836;"><i style="width:7.0px;transform:scaleX(0.985)">1</i><i style="width:7.0px;transform:scaleX(0.985)">4</i><i style="width:5.4px;font-size:10.5px;transform:scaleX(0.628)">m</i><i style="width:5.4px;font-size:10.5px;transform:scaleX(0.628)">m</i></div>
<div class="c m" style="left:461.6px;width:47.0px;top:983.7px;font-size:13.5px;font-family:'Liberation Serif',serif;color:#2a2220;color:#3e3836;"><i style="width:7.0px;transform:scaleX(0.985)">6</i><i style="width:7.0px;transform:scaleX(0.985)">4</i><i style="width:5.4px;font-size:10.5px;transform:scaleX(0.628)">m</i><i style="width:5.4px;font-size:10.5px;transform:scaleX(0.628)">m</i></div>
<div class="c m" style="left:508.6px;width:46.69999999999993px;top:983.7px;font-size:13.5px;font-family:'Liberation Serif',serif;color:#2a2220;color:#3e3836;"><i style="width:7.0px;transform:scaleX(0.985)">2</i><i style="width:7.0px;transform:scaleX(0.985)">0</i><i style="width:7.0px;transform:scaleX(0.985)">5</i><i style="width:5.4px;font-size:10.5px;transform:scaleX(0.628)">m</i><i style="width:5.4px;font-size:10.5px;transform:scaleX(0.628)">m</i></div>
<div class="c m" style="left:555.3px;width:46.0px;top:983.7px;font-size:13.5px;font-family:'Liberation Serif',serif;color:#2a2220;color:#3e3836;"><i style="width:7.0px;transform:scaleX(0.985)">1</i><i style="width:7.0px;transform:scaleX(0.985)">9</i><i style="width:7.0px;transform:scaleX(0.985)">3</i><i style="width:5.4px;font-size:10.5px;transform:scaleX(0.628)">m</i><i style="width:5.4px;font-size:10.5px;transform:scaleX(0.628)">m</i></div>
<div class="c" style="left:599.3px;width:46.700000000000045px;top:985.2px;font-size:12px;color:#5a5452;">无</div>
<div class="c" style="left:646px;width:46.10000000000002px;top:985.2px;font-size:12px;color:#5a5452;">无</div>
<div class="c m" style="left:73.1px;width:106.4px;top:1001.7px;font-size:13.5px;font-family:'Liberation Serif',serif;color:#2a2220;color:#3e3836;"><i style="width:6.3px;transform:scaleX(0.614)">D</i><i style="width:6.3px;transform:scaleX(0.614)">H</i><i style="width:6.3px;transform:scaleX(0.797)">P</i><i style="width:6.3px;transform:scaleX(0.665)">C</i><i style="width:6.3px">-</i><i style="width:6.3px;transform:scaleX(0.887)">2</i><i style="width:6.3px;transform:scaleX(0.887)">2</i><i style="width:6.3px;transform:scaleX(0.887)">0</i><i style="width:6.3px;transform:scaleX(0.614)">A</i><i style="width:6.3px;transform:scaleX(0.887)">1</i><i style="width:6.3px;transform:scaleX(0.887)">0</i><i style="width:6.3px">-</i><i style="width:6.3px;transform:scaleX(0.726)">E</i><i style="width:6.3px;transform:scaleX(0.665)">B</i></div>
<div class="c m" style="left:181.5px;width:46.099999999999994px;top:1001.7px;font-size:13.5px;font-family:'Liberation Serif',serif;color:#2a2220;color:#3e3836;"><i style="width:7.0px;transform:scaleX(0.985)">5</i><i style="width:7.0px;transform:scaleX(0.985)">0</i><i style="width:5.4px;font-size:10.5px;transform:scaleX(0.628)">m</i><i style="width:5.4px;font-size:10.5px;transform:scaleX(0.628)">m</i></div>
<div class="c" style="left:225.6px;width:46.70000000000002px;top:1003.2px;font-size:12px;color:#5a5452;">无</div>
<div class="c m" style="left:274.3px;width:47.0px;top:1001.7px;font-size:13.5px;font-family:'Liberation Serif',serif;color:#2a2220;color:#3e3836;"><i style="width:7.0px;transform:scaleX(0.985)">2</i><i style="width:7.0px;transform:scaleX(0.985)">3</i><i style="width:7.0px">.</i><i style="width:7.0px;transform:scaleX(0.985)">5</i><i style="width:5.4px;font-size:10.5px;transform:scaleX(0.628)">m</i><i style="width:5.4px;font-size:10.5px;transform:scaleX(0.628)">m</i></div>
<div class="c" style="left:319.3px;width:46.69999999999999px;top:1003.2px;font-size:12px;color:#5a5452;">无</div>
<div class="c m" style="left:368px;width:46.69999999999999px;top:1001.7px;font-size:13.5px;font-family:'Liberation Serif',serif;color:#2a2220;color:#3e3836;"><i style="width:7.0px;transform:scaleX(0.985)">7</i><i style="width:7.0px;transform:scaleX(0.985)">8</i><i style="width:5.4px;font-size:10.5px;transform:scaleX(0.628)">m</i><i style="width:5.4px;font-size:10.5px;transform:scaleX(0.628)">m</i></div>
<div class="c m" style="left:414.7px;width:46.900000000000034px;top:1001.7px;font-size:13.5px;font-family:'Liberation Serif',serif;color:#2a2220;color:#3e3836;"><i style="width:7.0px;transform:scaleX(0.985)">1</i><i style="width:7.0px;transform:scaleX(0.985)">4</i><i style="width:5.4px;font-size:10.5px;transform:scaleX(0.628)">m</i><i style="width:5.4px;font-size:10.5px;transform:scaleX(0.628)">m</i></div>
<div class="c m" style="left:461.6px;width:47.0px;top:1001.7px;font-size:13.5px;font-family:'Liberation Serif',serif;color:#2a2220;color:#3e3836;"><i style="width:7.0px;transform:scaleX(0.985)">6</i><i style="width:7.0px;transform:scaleX(0.985)">4</i><i style="width:5.4px;font-size:10.5px;transform:scaleX(0.628)">m</i><i style="width:5.4px;font-size:10.5px;transform:scaleX(0.628)">m</i></div>
<div class="c m" style="left:508.6px;width:46.69999999999993px;top:1001.7px;font-size:13.5px;font-family:'Liberation Serif',serif;color:#2a2220;color:#3e3836;"><i style="width:7.0px;transform:scaleX(0.985)">2</i><i style="width:7.0px;transform:scaleX(0.985)">0</i><i style="width:7.0px;transform:scaleX(0.985)">5</i><i style="width:5.4px;font-size:10.5px;transform:scaleX(0.628)">m</i><i style="width:5.4px;font-size:10.5px;transform:scaleX(0.628)">m</i></div>
<div class="c m" style="left:555.3px;width:46.0px;top:1001.7px;font-size:13.5px;font-family:'Liberation Serif',serif;color:#2a2220;color:#3e3836;"><i style="width:7.0px;transform:scaleX(0.985)">1</i><i style="width:7.0px;transform:scaleX(0.985)">9</i><i style="width:7.0px;transform:scaleX(0.985)">3</i><i style="width:5.4px;font-size:10.5px;transform:scaleX(0.628)">m</i><i style="width:5.4px;font-size:10.5px;transform:scaleX(0.628)">m</i></div>
<div class="c" style="left:599.3px;width:46.700000000000045px;top:1003.2px;font-size:12px;color:#5a5452;">无</div>
<div class="c" style="left:646px;width:46.10000000000002px;top:1003.2px;font-size:12px;color:#5a5452;">无</div>
<div class="t" id="zy" style="left:118px;top:1071.5px;font-size:17px;letter-spacing:0.8px;-webkit-text-stroke:0.35px #231815;">注意</div>
<div class="t" id="w0" style="left:181px;top:1035.5px;font-size:10px;color:#2e2826;-webkit-text-stroke:0.2px #2e2826;letter-spacing:0.65px;">交流伺服驱动单元必须安装在保护良好的电柜内，防止尘埃、腐蚀气体、导电物体、液体及易燃物侵入。</div>
<div class="t" id="w1" style="left:181px;top:1048.6px;font-size:10px;color:#2e2826;-webkit-text-stroke:0.2px #2e2826;letter-spacing:0.65px;">交流伺服驱动单元必须按正确的方向和间隔安装，并保持良好的通风。</div>
<div class="t" id="w2" style="left:181px;top:1061.7px;font-size:10px;color:#2e2826;-webkit-text-stroke:0.2px #2e2826;letter-spacing:0.65px;">不可安装在易燃物体上面或附近，防止火灾。</div>
<div class="t" id="w3" style="left:181px;top:1074.7px;font-size:10px;color:#2e2826;-webkit-text-stroke:0.2px #2e2826;letter-spacing:0.65px;">严禁拖拽伺服电机电线，敲击电机轴和编码器。</div>
<div class="t" id="w4" style="left:181px;top:1087.8px;font-size:10px;color:#2e2826;-webkit-text-stroke:0.2px #2e2826;letter-spacing:0.65px;">电气电路连接必须保证正确，连接错误将有损坏伺服驱动器的可能。</div>
</body></html>
